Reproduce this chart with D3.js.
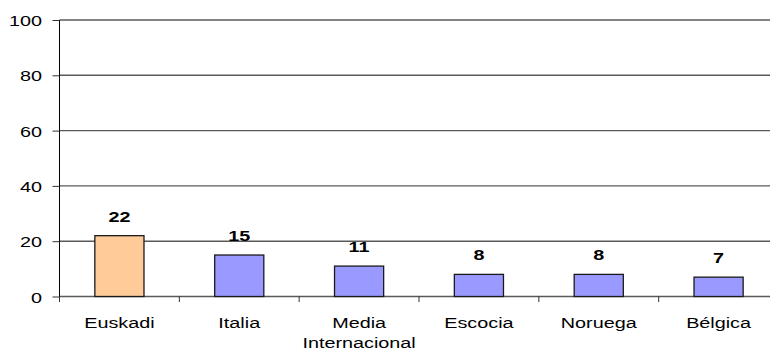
<!DOCTYPE html>
<html>
<head>
<meta charset="utf-8">
<script src="https://cdn.jsdelivr.net/npm/d3@7"></script>
<style>
  body { margin: 0; background: #fff; }
</style>
</head>
<body>
<svg width="770" height="352"></svg>
<script>
// data
const categories = ["Euskadi", "Italia", "Media Internacional", "Escocia", "Noruega", "Bélgica"];
const values = [22, 15, 11, 8, 8, 7];
const highlighted = ["Euskadi"];
const yTicks = [0, 20, 40, 60, 80, 100];

const svg = d3.select("svg");
const font = "Arial, 'Liberation Sans', sans-serif";
// the original text is drawn wide, so stretch it sideways
const stretch = 1.32;

// plot runs past the right edge of the picture
const x = d3.scaleBand()
  .domain(categories)
  .range([59.5, 778.5])
  .paddingInner(0.59)
  .paddingOuter(0.295);

const y = d3.scaleLinear().domain([0, 100]).range([296.5, 20]);

// gridlines (0 is the category axis)
svg.append("g")
  .selectAll("line")
  .data(yTicks)
  .join("line")
  .attr("x1", 59.5)
  .attr("x2", 778.5)
  .attr("y1", (d) => y(d))
  .attr("y2", (d) => y(d))
  .attr("stroke", "#5a5a5a")
  .attr("stroke-width", 1.4);

// y axis with stretched labels
const yAxis = svg.append("g")
  .attr("transform", "translate(59.5,0)")
  .call(d3.axisLeft(y).tickValues(yTicks).tickSize(7).tickSizeOuter(0));
yAxis.select(".domain").attr("stroke", "#000").attr("d", "M0," + y(100) + "V" + (y(0) + 5.5));
yAxis.selectAll(".tick line").attr("stroke", "#333");
yAxis.selectAll(".tick text")
  .attr("x", 0)
  .attr("dy", null)
  .attr("y", 5.5)
  .attr("transform", "translate(-17.5,0) scale(" + stretch + ",1)")
  .attr("fill", "#000")
  .style("font", "15px " + font);

// tick marks between categories
const bounds = d3.range(categories.length + 1).map((i) => 59.5 + i * x.step());
svg.append("g")
  .selectAll("line")
  .data(bounds)
  .join("line")
  .attr("x1", (d) => d)
  .attr("x2", (d) => d)
  .attr("y1", y(0))
  .attr("y2", y(0) + 5.5)
  .attr("stroke", "#333");

// bars
svg.append("g")
  .selectAll("rect")
  .data(categories)
  .join("rect")
  .attr("x", (d) => x(d))
  .attr("width", x.bandwidth())
  .attr("y", (d, i) => y(values[i]))
  .attr("height", (d, i) => y(0) - y(values[i]))
  .attr("fill", (d) => (highlighted.includes(d) ? "#ffcc99" : "#9999ff"))
  .attr("stroke", "#1a1a1a")
  .attr("stroke-width", 1.3);

// value labels
svg.append("g")
  .selectAll("text")
  .data(categories)
  .join("text")
  .attr("transform", (d, i) =>
    "translate(" + (x(d) + x.bandwidth() / 2) + "," + (y(values[i]) - 14) + ") scale(" + stretch + ",1)")
  .attr("text-anchor", "middle")
  .style("font", "bold 15px " + font)
  .text((d, i) => values[i]);

// category labels, long ones wrap onto two lines
const catLabels = svg.append("g")
  .selectAll("text")
  .data(categories)
  .join("text")
  .attr("transform", (d) =>
    "translate(" + (x(d) + x.bandwidth() / 2) + ",328) scale(" + stretch + ",1)")
  .attr("text-anchor", "middle")
  .style("font", "15px " + font);

catLabels.each(function (d) {
  const words = d.length > 12 ? d.split(" ") : [d];
  d3.select(this)
    .selectAll("tspan")
    .data(words)
    .join("tspan")
    .attr("x", 0)
    .attr("dy", (w, i) => (i === 0 ? 0 : 20))
    .text((w) => w);
});
</script>
</body>
</html>
